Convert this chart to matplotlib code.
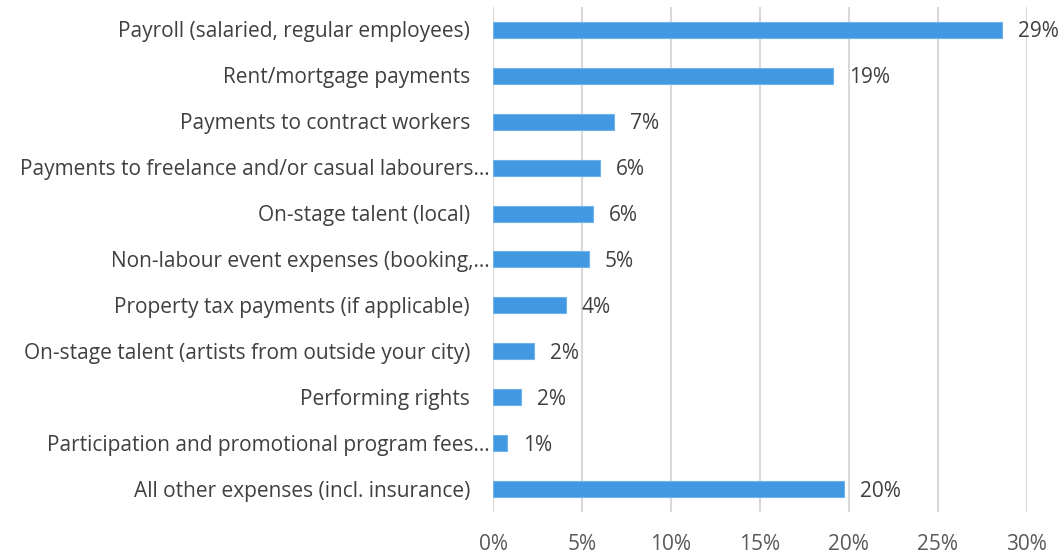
import matplotlib
matplotlib.use("Agg")
import matplotlib.pyplot as plt
import matplotlib.transforms as mtransforms

categories = [
    "Payroll (salaried, regular employees)",
    "Rent/mortgage payments",
    "Payments to contract workers",
    "Payments to freelance and/or casual labourers…",
    "On-stage talent (local)",
    "Non-labour event expenses (booking,…",
    "Property tax payments (if applicable)",
    "On-stage talent (artists from outside your city)",
    "Performing rights",
    "Participation and promotional program fees…",
    "All other expenses (incl. insurance)",
]
values = [28.6, 19.1, 6.8, 6.0, 5.6, 5.4, 4.1, 2.3, 1.6, 0.8, 19.7]
value_labels = ["29%", "19%", "7%", "6%", "6%", "5%", "4%", "2%", "2%", "1%", "20%"]
truncated = [False, False, False, True, False, True, False, False, False, True, False]
xticks = [0, 5, 10, 15, 20, 25, 30]
xtick_labels = ["0%", "5%", "10%", "15%", "20%", "25%", "30%"]

plt.rcParams['font.family'] = ['Open Sans', 'DejaVu Sans']

fig = plt.figure(figsize=(10.63, 5.55), dpi=100)
ax = fig.add_axes([0.4638, 0.0775, 0.966 - 0.4638, 0.9875 - 0.0775])

n = len(categories)
ypos = list(range(n))
ax.barh(ypos, values, height=0.35, color="#4299e1", edgecolor="#6fb3ea", linewidth=0.8, zorder=3)

ax.set_xlim(0, 30)
ax.set_ylim(n - 0.5, -0.5)
ax.set_xticks(xticks)
ax.set_xticklabels(xtick_labels, fontsize=15, color="#595959")
ax.tick_params(axis='x', length=0, pad=16)
ax.set_yticks([])
for s in ax.spines.values():
    s.set_visible(False)
ax.grid(axis='x', color="#d9d9d9", linewidth=1.5, zorder=0)
ax.set_axisbelow(True)

for i, (cat, tr) in enumerate(zip(categories, truncated)):
    off = -3 if tr else -23
    trans = mtransforms.offset_copy(ax.get_yaxis_transform(), fig=fig, x=off, y=-2, units='dots')
    ax.text(0, i, cat, transform=trans, ha='right', va='center', fontsize=15, color="#404040")

for i, (v, lab) in enumerate(zip(values, value_labels)):
    trans = mtransforms.offset_copy(ax.transData, fig=fig, x=16, y=-2, units='dots')
    ax.text(v, i, lab, transform=trans, ha='left', va='center', fontsize=15, color="#404040")

fig.savefig("out.png", dpi=100)
